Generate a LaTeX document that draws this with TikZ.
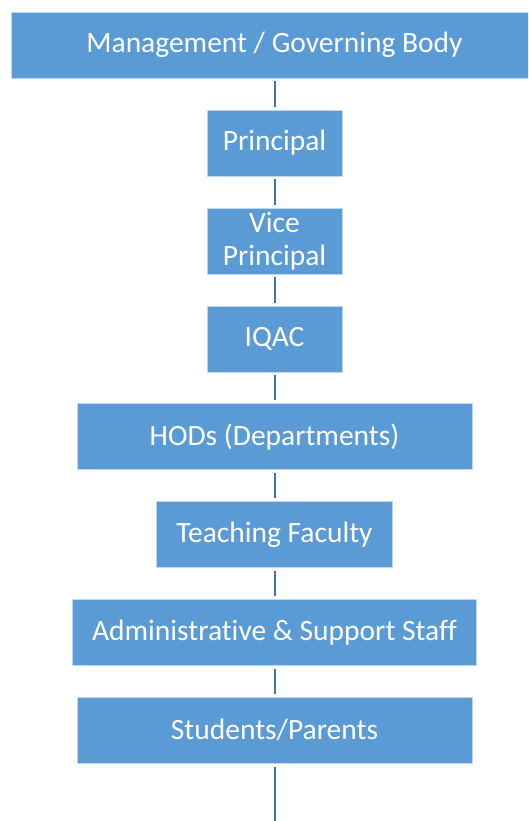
\documentclass[tikz,border=0pt]{standalone}
\usepackage{fontspec}
\setmainfont[Ligatures=NoCommon]{Carlito}
\usetikzlibrary{positioning}
\definecolor{boxblue}{RGB}{91,155,213}
\definecolor{boxedge}{RGB}{190,214,238}
\definecolor{linkblue}{RGB}{68,114,170}

\begin{document}
\begin{tikzpicture}[
    x=1pt, y=1pt,
    node distance=31.5pt,
    box/.style={rectangle, draw=boxedge, fill=boxblue, text=white,
                align=center, minimum height=66pt, inner sep=0pt,
                font=\fontsize{29.5}{33}\selectfont},
    link/.style={draw=linkblue, line width=2pt, shorten >=3pt, shorten <=3pt}
]
\clip (0,0) rectangle (528,-821);

\node (gb) [box, minimum width=527pt] at (274.5,-45) {Management / Governing Body};
\node (pr) [box, minimum width=135pt, below=of gb] {Principal};
\node (vp) [box, minimum width=135pt, below=of pr] {Vice\\Principal};
\node (iq) [box, minimum width=135pt, below=of vp] {IQAC};
\node (hod) [box, minimum width=395pt, below=of iq] {HODs (Departments)};
\node (tf) [box, minimum width=236pt, below=of hod] {Teaching Faculty};
\node (as) [box, minimum width=404pt, below=of tf] {Administrative \& Support Staff};
\node (sp) [box, minimum width=395pt, below=of as] {Students/Parents};
\coordinate (end) at (274.5,-821);

\draw [link] (gb) -- (pr);
\draw [link] (pr) -- (vp);
\draw [link] (vp) -- (iq);
\draw [link] (iq) -- (hod);
\draw [link] (hod) -- (tf);
\draw [link] (tf) -- (as);
\draw [link] (as) -- (sp);
\draw [link, shorten >=0pt] (sp) -- (end);

\end{tikzpicture}
\end{document}
